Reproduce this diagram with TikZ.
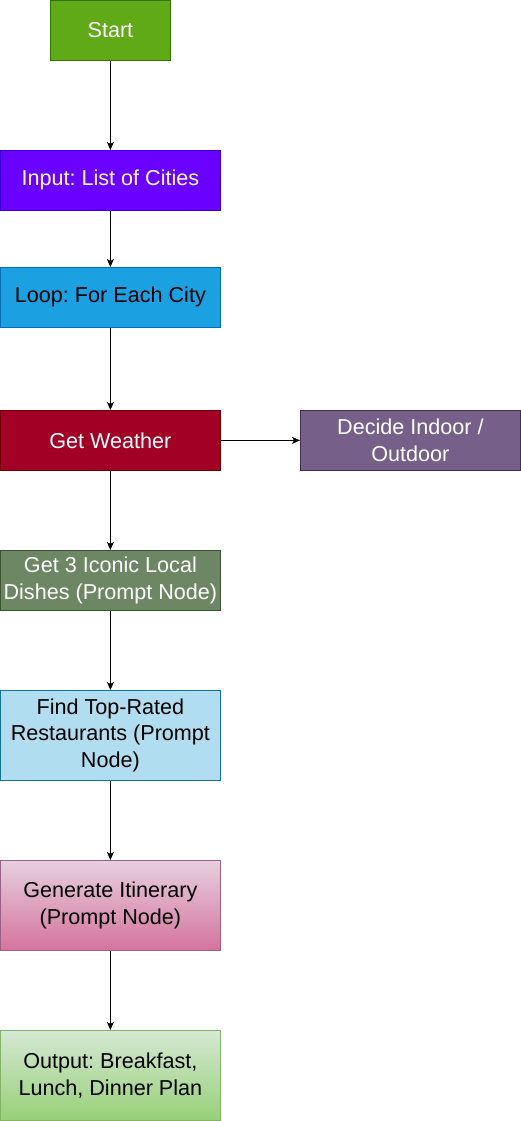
\documentclass[tikz,border=0pt]{standalone}
\usepackage{fontspec}
\setmainfont{Liberation Sans}
\usetikzlibrary{arrows.meta}
\definecolor{startF}{HTML}{60A917}\definecolor{startD}{HTML}{2D7600}
\definecolor{inF}{HTML}{6A00FF}\definecolor{inD}{HTML}{3700CC}
\definecolor{loopF}{HTML}{1BA1E2}\definecolor{loopD}{HTML}{006EAF}
\definecolor{wF}{HTML}{A20025}\definecolor{wD}{HTML}{6F0000}
\definecolor{dF}{HTML}{76608A}\definecolor{dD}{HTML}{432D57}
\definecolor{gF}{HTML}{6D8764}\definecolor{gD}{HTML}{3A5431}
\definecolor{fF}{HTML}{B1DDF0}\definecolor{fD}{HTML}{10739E}
\definecolor{iT}{HTML}{E6D0DE}\definecolor{iB}{HTML}{D5739D}\definecolor{iD}{HTML}{996185}
\definecolor{oT}{HTML}{D5E8D4}\definecolor{oB}{HTML}{97D077}\definecolor{oD}{HTML}{82B366}
\tikzset{
  box/.style={draw, line width=0.8pt, minimum width=220pt, minimum height=60pt, inner sep=0pt, align=center,
    font=\fontsize{21.6}{26.5}\selectfont\frenchspacing, anchor=north west},
  tall/.style={box, minimum height=90pt},
  conn/.style={draw=black, line width=0.8pt, -{Stealth[length=8pt,width=7pt,inset=2pt]}}
}
\begin{document}
\begin{tikzpicture}[x=1pt,y=1pt]
\useasboundingbox (0,0) rectangle (521,-1121);
\node[box, minimum width=120pt, fill=startF, draw=startD, text=white] (start) at (50,0) {Start};
\node[box, fill=inF, draw=inD, text=white] (input) at (0,-150) {Input: List of Cities};
\node[box, fill=loopF, draw=loopD, text=black] (loop) at (0,-267) {Loop: For Each City};
\node[box, fill=wF, draw=wD, text=white] (weather) at (0,-410) {Get Weather};
\node[box, fill=dF, draw=dD, text=white] (decide) at (300,-410) {Decide Indoor /\\Outdoor};
\node[box, fill=gF, draw=gD, text=white] (dishes) at (0,-550) {Get 3 Iconic Local\\Dishes (Prompt Node)};
\node[tall, fill=fF, draw=fD, text=black] (find) at (0,-690) {Find Top-Rated\\Restaurants (Prompt\\Node)};
\node[tall, top color=iT, bottom color=iB, draw=iD, text=black] (gen) at (0,-860) {Generate Itinerary\\(Prompt Node)};
\node[tall, top color=oT, bottom color=oB, draw=oD, text=black] (out) at (0,-1030) {Output: Breakfast,\\Lunch, Dinner Plan};
\draw[conn] (start) -- (input);
\draw[conn] (input) -- (loop);
\draw[conn] (loop) -- (weather);
\draw[conn] (weather) -- (decide);
\draw[conn] (weather) -- (dishes);
\draw[conn] (dishes) -- (find);
\draw[conn] (find) -- (gen);
\draw[conn] (gen) -- (out);
\end{tikzpicture}
\end{document}
